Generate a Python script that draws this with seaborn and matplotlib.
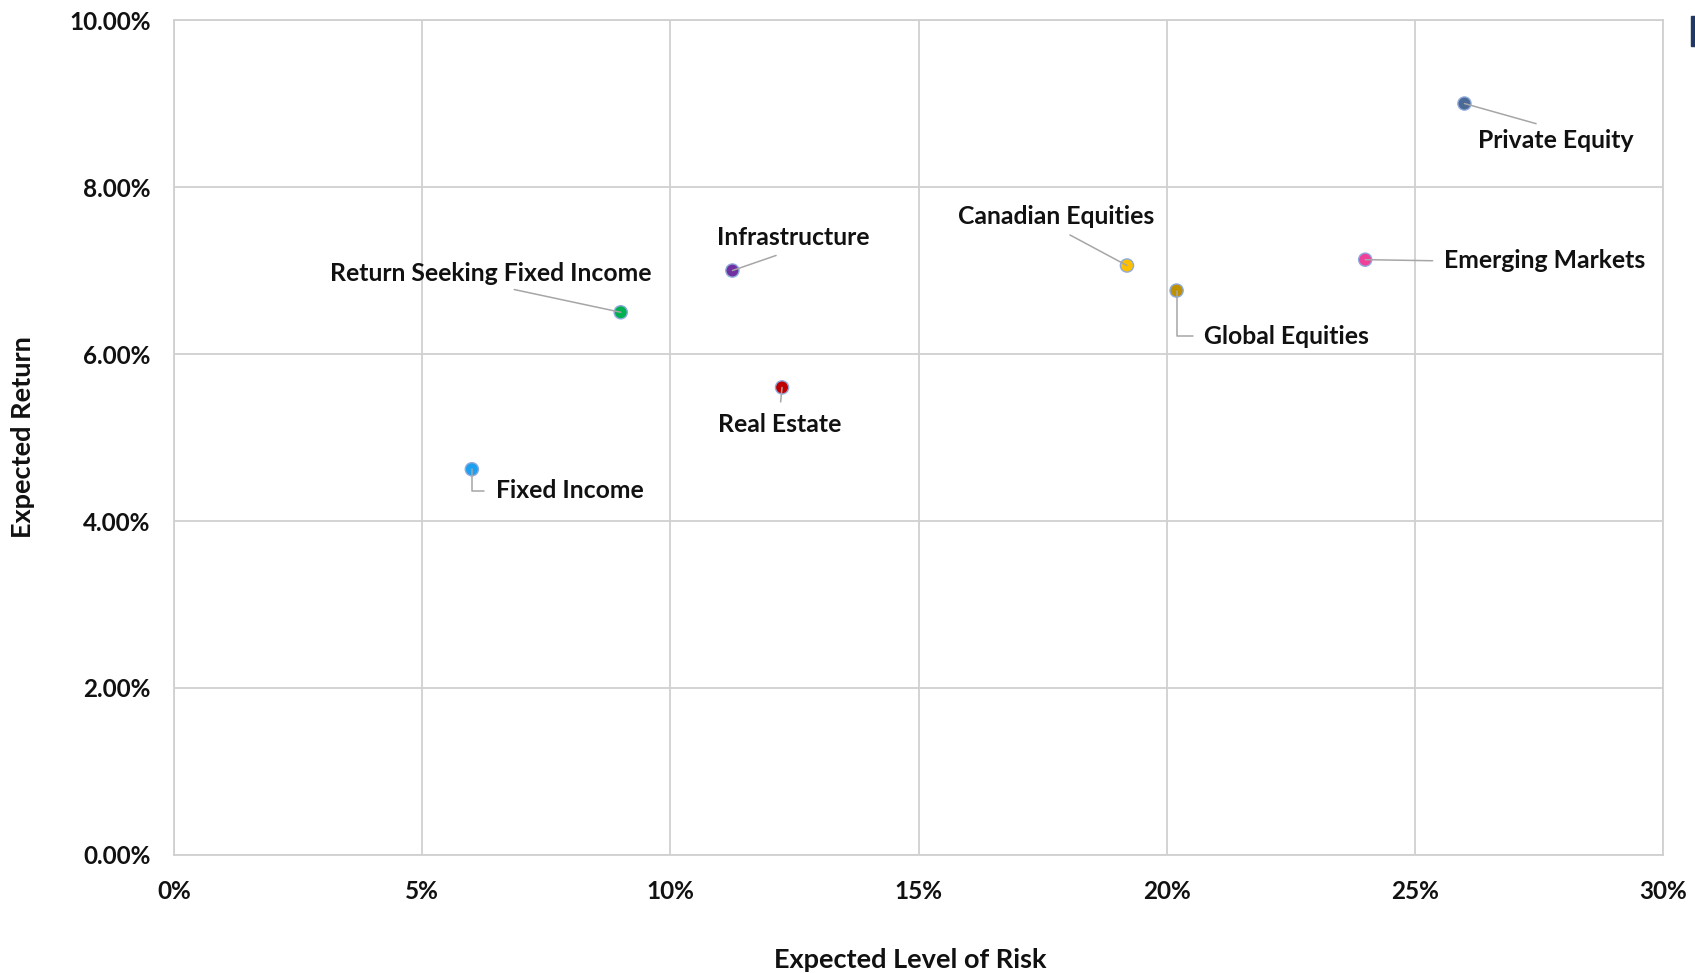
import matplotlib
matplotlib.use("Agg")
import matplotlib.pyplot as plt
import seaborn as sns
import pandas as pd
from matplotlib.ticker import FuncFormatter
from matplotlib.patches import Rectangle

# ---- data ----
assets = ["Private Equity", "Emerging Markets", "Canadian Equities", "Global Equities",
          "Infrastructure", "Return Seeking Fixed Income", "Real Estate", "Fixed Income"]
risk = [26.0, 24.0, 19.2, 20.2, 11.25, 9.0, 12.25, 6.0]          # %
expected_return = [9.0, 7.13, 7.06, 6.76, 7.0, 6.5, 5.6, 4.62]   # %
colors = ["#4a6996", "#f0409a", "#ffc000", "#bf9000", "#7030a0", "#00b050", "#c00000", "#1ea0f0"]
x_ticks = [0, 5, 10, 15, 20, 25, 30]
y_ticks = [0, 2, 4, 6, 8, 10]

# ---- layout of labels (text centre in data coords, arrow anchor, connection) ----
label_pos = [(27.84, 8.555), (27.62, 7.115), (17.78, 7.65), (22.42, 6.215),
             (12.48, 7.39), (6.38, 6.97), (12.2, 5.15), (7.97, 4.365)]
label_relpos = [(0.5, 1.0), (0.0, 0.5), (0.5, 0.0), (0.0, 0.5),
                (0.5, 0.0), (0.5, 0.0), (0.5, 1.0), (0.0, 0.5)]
label_conn = ["arc3", "arc3", "arc3", "angle,angleA=0,angleB=90,rad=0",
              "arc3", "arc3", "arc3", "angle,angleA=0,angleB=90,rad=0"]

df = pd.DataFrame({"asset": assets, "risk": risk, "ret": expected_return})

sns.set_theme(style="white")
plt.rcParams["font.family"] = ["Lato", "DejaVu Sans"]
plt.rcParams["font.weight"] = "bold"

fig = plt.figure(figsize=(16.95, 9.73), dpi=100)
ax = fig.add_axes([0.1027, 0.1213, 0.8784, 0.8581])

sns.scatterplot(data=df, x="risk", y="ret", hue="asset", palette=colors,
                s=90, edgecolor="#8eaadb", linewidth=1.0, legend=False, zorder=3, ax=ax)

ax.set_xlim(0, 30)
ax.set_ylim(0, 10)
ax.set_xticks(x_ticks)
ax.set_yticks(y_ticks)
ax.xaxis.set_major_formatter(FuncFormatter(lambda v, p: f"{v:.0f}%"))
ax.yaxis.set_major_formatter(FuncFormatter(lambda v, p: f"{v:.2f}%"))
ax.grid(True, color="#d0d0d0", linewidth=1.3)
ax.set_axisbelow(True)
for sp in ax.spines.values():
    sp.set_color("#d0d0d0")
    sp.set_linewidth(1.3)
ax.tick_params(axis="both", length=0, labelsize=17.5, colors="#111111")
ax.tick_params(axis="x", pad=18)
ax.tick_params(axis="y", pad=17)
for lab in ax.get_xticklabels() + ax.get_yticklabels():
    lab.set_fontweight("bold")

ax.set_xlabel("Expected Level of Risk", fontsize=19.5, fontweight="bold", color="#111111")
ax.set_ylabel("Expected Return", fontsize=19.5, fontweight="bold", color="#111111")
ax.xaxis.set_label_coords(0.4945, -0.111)
ax.yaxis.set_label_coords(-0.0934, 0.5)

for name, x, y, (tx, ty), rp, cs in zip(assets, risk, expected_return, label_pos, label_relpos, label_conn):
    ax.annotate(name, xy=(x, y), xytext=(tx, ty), ha="center", va="center",
                fontsize=17.8, fontweight="bold", color="#111111",
                arrowprops=dict(arrowstyle="-", color="#a6a6a6", lw=1.1,
                                relpos=rp, connectionstyle=cs, shrinkA=6, shrinkB=0),
                zorder=4)

fig.patches.append(Rectangle((1691 / 1695, 1 - 46 / 973), 4 / 1695, 30 / 973,
                             transform=fig.transFigure, color="#1f3864", zorder=5))

fig.savefig("out.png", dpi=100, facecolor="white")
